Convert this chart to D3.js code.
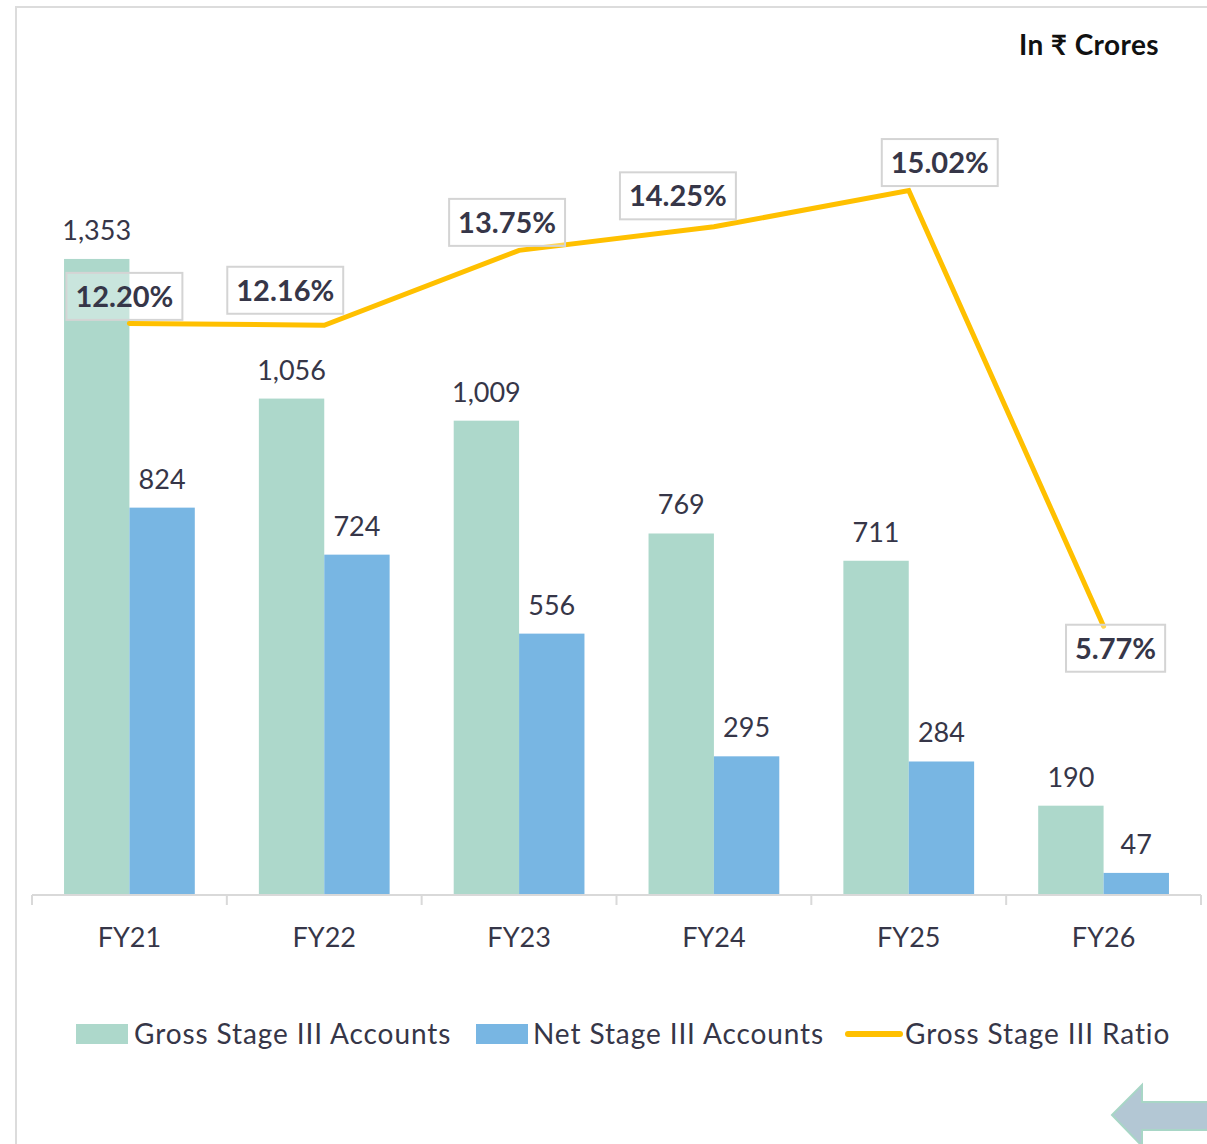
<!DOCTYPE html>
<html>
<head>
<meta charset="utf-8">
<script src="https://cdn.jsdelivr.net/npm/d3@7"></script>
<style>
  html, body { margin: 0; padding: 0; background: #fff; }
  svg { display: block; }
  text { font-family: Lato, "Noto Sans", "DejaVu Sans", sans-serif; }
</style>
</head>
<body>
<svg id="chart" width="1207" height="1144"></svg>
<script>
// ---- Data ----
const categories = ["FY21", "FY22", "FY23", "FY24", "FY25", "FY26"];
const grossStage3 = [1353, 1056, 1009, 769, 711, 190];
const netStage3 = [824, 724, 556, 295, 284, 47];
const grossRatio = [12.20, 12.16, 13.75, 14.25, 15.02, 5.77];
const seriesNames = ["Gross Stage III Accounts", "Net Stage III Accounts", "Gross Stage III Ratio"];
const unitLabel = "In \u20B9 Crores";

// ---- Layout (not data) ----
const ratioLabelShift = [[-5, -27], [-39, -35], [-12, -28], [-36, -31], [31, -28], [12, 22]];
const colors = { gross: "#ADD8CB", net: "#78B6E3", line: "#FFC000", text: "#363648", grid: "#D9D9D9" };

const svg = d3.select("#chart");
const W = 1207, H = 1144;
const baseY = 895, plotLeft = 32, plotRight = 1201;

// frame
svg.append("path")
  .attr("d", `M16,${H} L16,7 L${W},7`)
  .attr("fill", "none").attr("stroke", "#DCDCDC").attr("stroke-width", 2);

const x = d3.scaleBand().domain(categories).range([plotLeft, plotRight]).padding(0);
const xSub = d3.scaleBand().domain(["gross", "net"]).range([0, x.bandwidth()]).paddingInner(0).paddingOuter(0.49);
const y = d3.scaleLinear().domain([0, 1600]).range([baseY, baseY - 1600 * 0.4701]);
const yR = d3.scaleLinear().domain([0, 16]).range([baseY + 3, baseY + 3 - 16 * 47.1]);

// bars
const barData = categories.map((c, i) => ({ c, gross: grossStage3[i], net: netStage3[i] }));
const groups = svg.append("g").selectAll("g").data(barData).join("g")
  .attr("transform", d => `translate(${x(d.c)},0)`);
["gross", "net"].forEach(k => {
  groups.append("rect")
    .attr("x", xSub(k)).attr("width", xSub.bandwidth())
    .attr("y", d => y(d[k])).attr("height", d => baseY - y(d[k]))
    .attr("fill", colors[k]);
  groups.append("text")
    .attr("x", xSub(k) + xSub.bandwidth() / 2)
    .attr("y", d => y(d[k]) - 19)
    .attr("text-anchor", "middle")
    .attr("font-size", 27).attr("fill", colors.text)
    .text(d => d3.format(",")(d[k]));
});

// x axis
const axis = svg.append("g").attr("transform", `translate(0,${baseY})`);
axis.append("line").attr("x1", plotLeft).attr("x2", plotRight).attr("y1", 0).attr("y2", 0)
  .attr("stroke", colors.grid).attr("stroke-width", 2);
const tickXs = categories.map(c => x(c)).concat([plotRight]);
axis.selectAll("line.tick").data(tickXs).join("line").attr("class", "tick")
  .attr("x1", d => d).attr("x2", d => d).attr("y1", 0).attr("y2", 10)
  .attr("stroke", colors.grid).attr("stroke-width", 2);
axis.selectAll("text").data(categories).join("text")
  .attr("x", d => x(d) + x.bandwidth() / 2).attr("y", 52)
  .attr("text-anchor", "middle").attr("font-size", 27).attr("fill", colors.text)
  .text(d => d);

// line
const linePts = categories.map((c, i) => [x(c) + x.bandwidth() / 2, yR(grossRatio[i])]);
svg.append("path")
  .attr("d", d3.line()(linePts))
  .attr("fill", "none").attr("stroke", colors.line).attr("stroke-width", 5)
  .attr("stroke-linecap", "round").attr("stroke-linejoin", "miter");

// ratio labels
const lblG = svg.append("g");
grossRatio.forEach((v, i) => {
  const cx = linePts[i][0] + ratioLabelShift[i][0];
  const cy = linePts[i][1] + ratioLabelShift[i][1];
  const g = lblG.append("g");
  const rect = g.append("rect");
  const t = g.append("text")
    .attr("x", cx).attr("y", cy + 10.5)
    .attr("text-anchor", "middle").attr("font-size", 29).attr("font-weight", 700)
    .attr("fill", colors.text)
    .text(v.toFixed(2) + "%");
  const bb = t.node().getBBox();
  rect.attr("x", bb.x - 9).attr("width", bb.width + 18)
    .attr("y", cy - 23.5).attr("height", 47)
    .attr("fill", "rgba(255,255,255,0.35)").attr("stroke", "#D4D4D4").attr("stroke-width", 2);
});

// unit label
svg.append("text").attr("x", 1159).attr("y", 55).attr("text-anchor", "end")
  .attr("font-size", 28).attr("font-weight", 700).attr("fill", "#111")
  .attr("letter-spacing", 0.4)
  .text(unitLabel);

// legend
const leg = svg.append("g");
const legY = 1034;
const legText = (xPos, s) => leg.append("text").attr("x", xPos).attr("y", legY + 10)
  .attr("font-size", 28).attr("letter-spacing", 0.9).attr("fill", colors.text).text(s);
leg.append("rect").attr("x", 76).attr("y", legY - 10).attr("width", 52).attr("height", 20).attr("fill", colors.gross);
legText(134, seriesNames[0]);
leg.append("rect").attr("x", 476).attr("y", legY - 10).attr("width", 52).attr("height", 20).attr("fill", colors.net);
legText(533, seriesNames[1]);
leg.append("line").attr("x1", 848).attr("x2", 900).attr("y1", legY).attr("y2", legY)
  .attr("stroke", colors.line).attr("stroke-width", 6).attr("stroke-linecap", "round");
legText(905, seriesNames[2]);

// decorative arrow
svg.append("path")
  .attr("d", "M1112,1115 L1142,1085 L1142,1102 L1210,1102 L1210,1130 L1142,1130 L1142,1146 Z")
  .attr("fill", "#B3C7D4").attr("stroke", "#A8D6C6").attr("stroke-width", 2);
</script>
</body>
</html>
